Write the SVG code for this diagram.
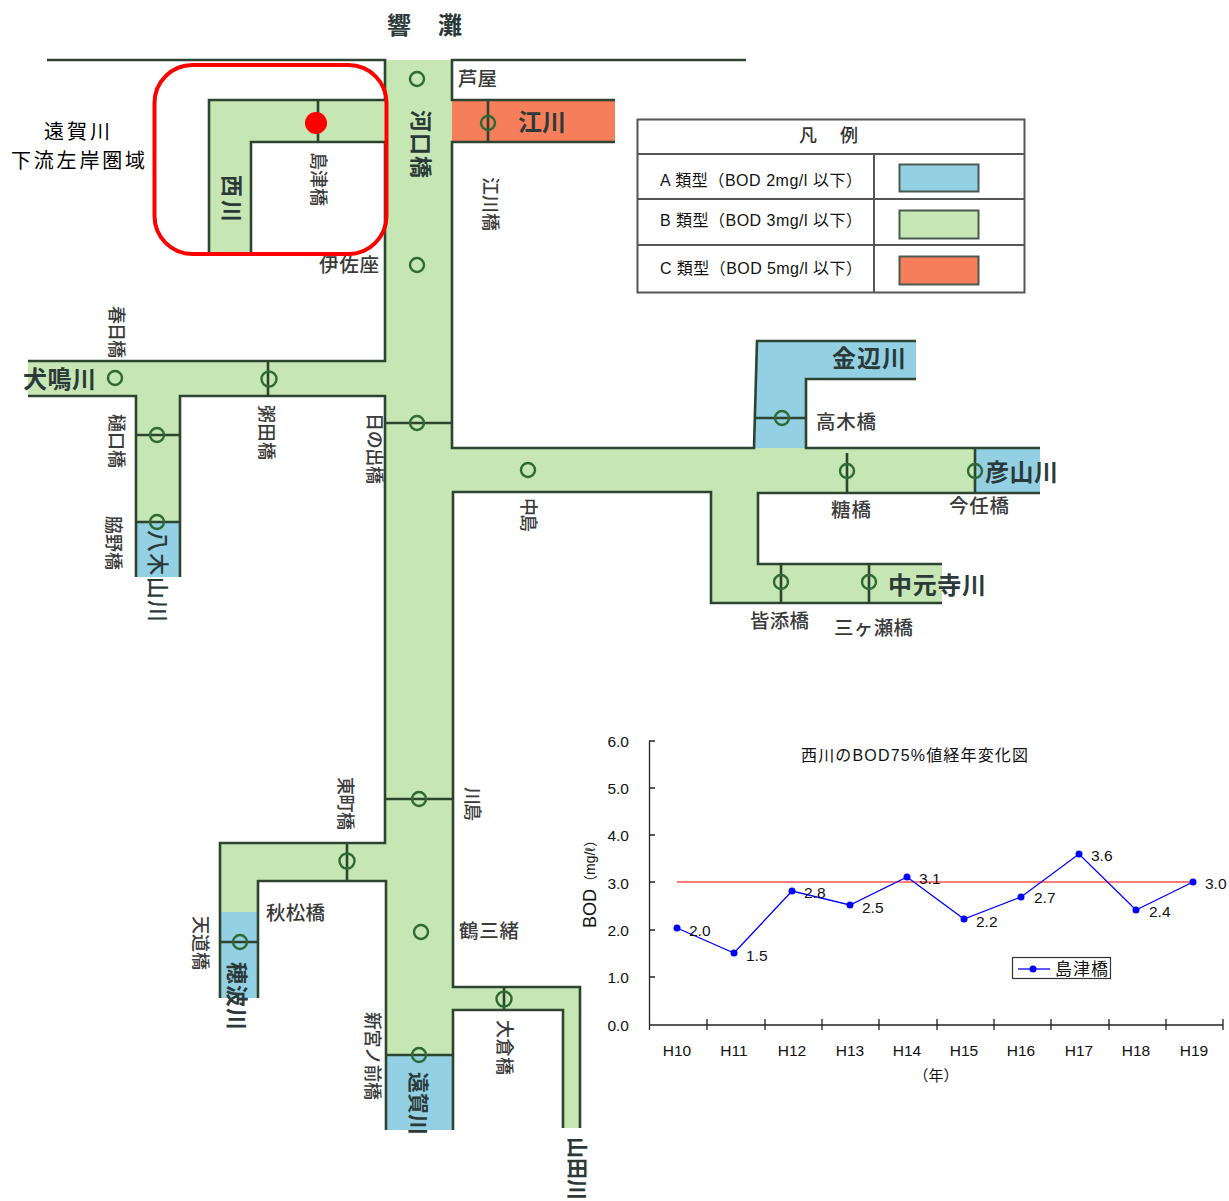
<svg xmlns="http://www.w3.org/2000/svg" width="1229" height="1201" viewBox="0 0 1229 1201">
<style>
text{font-family:"Noto Sans CJK JP","Liberation Sans",sans-serif;dominant-baseline:central}
.g{fill:#c6e6b4}.b{fill:#93d0e4}.o{fill:#f67e5a}
.l{fill:none;stroke:#2c4430;stroke-width:2.6}
.c{fill:none;stroke:#2f6a35;stroke-width:2.4}
.s{font-size:18px;fill:#3a3a3a;font-weight:500}
.h{font-size:19.500px;fill:#3a3a3a;font-weight:500}
.r{font-size:22px;fill:#2b3a38;font-weight:700}
.R{font-size:24px;fill:#2b3a38;font-weight:700}
.leg{font-family:"Liberation Sans","Noto Sans CJK JP",sans-serif;font-size:16px;fill:#111}
.sw{stroke:#4a5a50;stroke-width:2}
.n{font-family:"Liberation Sans",sans-serif;font-size:15.500px;fill:#111}
.axis{fill:none;stroke:#222;stroke-width:1.300}
.lat{font-family:"Liberation Sans","Noto Sans CJK JP",sans-serif;fill:#111}
</style>
<rect width="1229" height="1201" fill="#fff"/>
<g id="river-fills">
<rect class="g" x="386" y="60" width="66" height="996"/>
<rect class="b" x="386" y="1055" width="66" height="75"/>
<path class="g" d="M209 100H386V142H251V255H209Z"/>
<rect class="o" x="452" y="100" width="163" height="42"/>
<path class="g" d="M28 361H386V396H180V522H136V396H28Z"/>
<rect class="b" x="136" y="522" width="44" height="55"/>
<path class="g" d="M452 448H976V493H758V564H942V603H711V492H452Z"/>
<path class="b" d="M756 341H916V379H806V448H754Z"/>
<rect class="b" x="976" y="448" width="64" height="45"/>
<path class="g" d="M386 843V881H258V912H220V843Z"/>
<rect class="b" x="220" y="912" width="38" height="86"/>
<path class="g" d="M452 987H580V1128H563V1010H452Z"/>
</g>
<g id="connectors">
<path class="l" d="M47 60H385V100H209V255M251 255V142H385V361H28M28 396H136V577M180 577V396H385V843H220V998M258 998V881H386V1130"/>
<path class="l" d="M746 60H452V100H615M615 142H452V448H754L757 341H916M916 379H806V448H1040M1040 493H758V564H942M942 603H711V492H453V987H580V1128M563 1128V1010H453V1130"/>
<path class="l" d="M318 100V142M488 100V142M268 361V396M136 435H180M136 522H180M386 423H452M756 418H806M847 453V493M975 448V493M781 564V603M869 564V603M386 799H452M347 843V881M220 942H258M504 987V1010M386 1055H452"/>
</g>
<g id="stations">
<circle class="c" cx="417" cy="79" r="7"/><circle class="c" cx="488" cy="123" r="7"/><circle class="c" cx="417" cy="265" r="7"/>
<circle class="c" cx="115" cy="378" r="7"/><circle class="c" cx="269" cy="379" r="7.500"/><circle class="c" cx="157" cy="435" r="7"/><circle class="c" cx="157" cy="522" r="7"/>
<circle class="c" cx="417" cy="423" r="7"/><circle class="c" cx="528" cy="470" r="7"/><circle class="c" cx="782" cy="418" r="7"/><circle class="c" cx="847" cy="471" r="7"/><circle class="c" cx="975" cy="471" r="7"/>
<circle class="c" cx="781" cy="582" r="7"/><circle class="c" cx="869" cy="582" r="7"/><circle class="c" cx="419" cy="799" r="7"/><circle class="c" cx="347" cy="861" r="7.500"/><circle class="c" cx="240" cy="942" r="7"/>
<circle class="c" cx="421" cy="932" r="7"/><circle class="c" cx="504" cy="999" r="7.500"/><circle class="c" cx="419" cy="1055" r="7"/>
</g>
<g id="map-labels">
<text class="R" x="387" y="25" dy="-2" textLength="75">響　灘</text>
<text class="h" x="458" y="79" dy="-2" textLength="39">芦屋</text>
<text class="R" x="518" y="122" dy="-2" textLength="48">江川</text>
<text class="r" transform="translate(421 110) rotate(90)" dy="-2" textLength="68">河口橋</text>
<text class="s" transform="translate(490 177) rotate(90)" dy="-2" textLength="54">江川橋</text>
<text class="r" transform="translate(232 175) rotate(90)" dy="-2" textLength="47">西川</text>
<text class="s" transform="translate(318 152) rotate(90)" dy="-2" textLength="54">島津橋</text>
<text class="h" x="319" y="265" dy="-2" textLength="60">伊佐座</text>
<text class="s" transform="translate(116 306) rotate(90)" dy="-2" textLength="52">春日橋</text>
<text class="R" x="23" y="379" dy="-2" textLength="73">犬鳴川</text>
<text class="s" transform="translate(116 414) rotate(90)" dy="-2" textLength="54">樋口橋</text>
<text class="s" transform="translate(113 516) rotate(90)" dy="-2" textLength="54">脇野橋</text>
<text class="r" transform="translate(158 530) rotate(90)" dy="-2" textLength="92" style="font-weight:500">八木山川</text>
<text class="s" transform="translate(266 405) rotate(90)" dy="-2" textLength="55">粥田橋</text>
<text class="s" transform="translate(374 413) rotate(90)" dy="-2" textLength="71">日の出橋</text>
<text class="s" transform="translate(528 498) rotate(90)" dy="-2" textLength="34">中島</text>
<text class="h" x="816" y="422" dy="-2" textLength="60">高木橋</text>
<text class="R" x="832" y="358" dy="-2" textLength="74">金辺川</text>
<text class="R" x="985" y="472" dy="-2" textLength="73">彦山川</text>
<text class="h" x="831" y="510" dy="-2" textLength="40">糖橋</text>
<text class="h" x="949" y="506" dy="-2" textLength="60">今任橋</text>
<text class="R" x="888" y="585" dy="-2" textLength="98">中元寺川</text>
<text class="h" x="750" y="621" dy="-2" textLength="59">皆添橋</text>
<text class="h" x="834" y="628" dy="-2" textLength="79">三ヶ瀬橋</text>
<text class="s" transform="translate(345 777) rotate(90)" dy="-2" textLength="53">東町橋</text>
<text class="s" transform="translate(472 787) rotate(90)" dy="-2" textLength="34">川島</text>
<text class="h" x="459" y="931" dy="-2" textLength="60">鶴三緒</text>
<text class="h" x="266" y="913" dy="-2" textLength="59">秋松橋</text>
<text class="s" transform="translate(200 916) rotate(90)" dy="-2" textLength="54">天道橋</text>
<text class="r" transform="translate(237 962) rotate(90)" dy="-2" textLength="68">穂波川</text>
<text class="s" transform="translate(372 1012) rotate(90)" dy="-2" textLength="88">新宮ノ前橋</text>
<text class="r" transform="translate(418 1072) rotate(90)" dy="-2" textLength="63" style="font-size:21px">遠賀川</text>
<text class="s" transform="translate(504 1020) rotate(90)" dy="-2" textLength="55">大倉橋</text>
<text class="r" transform="translate(577 1137) rotate(90)" dy="-2" textLength="63" style="font-size:21px">山田川</text>
</g>
<g id="study-area">
<rect x="154.500" y="65" width="232" height="189" rx="38" fill="none" stroke="#f00" stroke-width="4"/>
<circle cx="316" cy="123" r="11" fill="#f00"/>
<text x="44" y="132" dy="-2" textLength="66" style="font-size:20px;fill:#000">遠賀川</text>
<text x="11" y="161" dy="-2" textLength="134" style="font-size:20px;fill:#000">下流左岸圏域</text>
</g>
<g id="legend">
<rect x="637.500" y="119.500" width="387" height="173" fill="#fff" stroke="#555" stroke-width="2"/>
<path d="M637 154H1024M637 199H1024M637 245H1024M874 154V293" fill="none" stroke="#555" stroke-width="2"/>
<text x="799" y="136" dy="-2" textLength="59" style="font-size:18px;fill:#333;font-weight:500">凡　例</text>
<text class="leg" x="660" y="180" textLength="202">A 類型（BOD 2mg/l 以下）</text>
<text class="leg" x="660" y="220" textLength="202">B 類型（BOD 3mg/l 以下）</text>
<text class="leg" x="660" y="268" textLength="202">C 類型（BOD 5mg/l 以下）</text>
<rect class="b sw" x="899.500" y="164.500" width="79" height="27"/>
<rect class="g sw" x="899.500" y="210.500" width="79" height="28"/>
<rect class="o sw" x="899.500" y="256.500" width="79" height="28"/>
</g>
<g id="chart">
<path class="axis" d="M649.500 741V1025M649 741h6M649 788h6M649 835h6M649 882h6M649 930h6M649 977h6M649 1025H1223M649.500 1019v11M707 1019v11M765 1019v11M822 1019v11M879 1019v11M937 1019v11M994 1019v11M1051 1019v11M1109 1019v11M1166 1019v11M1223 1019v11"/>
<path d="M677 882H1193" stroke="#ff5050" stroke-width="1.600" fill="none"/>
<path d="M677 928L734 953L792 891L850 905L907 877L964 919L1021 897L1079 854L1136 910L1193 882" stroke="#00f" stroke-width="1.300" fill="none"/>
<g fill="#00f"><circle cx="677" cy="928" r="3.500"/><circle cx="734" cy="953" r="3.500"/><circle cx="792" cy="891" r="3.500"/><circle cx="850" cy="905" r="3.500"/><circle cx="907" cy="877" r="3.500"/><circle cx="964" cy="919" r="3.500"/><circle cx="1021" cy="897" r="3.500"/><circle cx="1079" cy="854" r="3.500"/><circle cx="1136" cy="910" r="3.500"/><circle cx="1193" cy="882" r="3.500"/></g>
<g text-anchor="end">
<text class="n" x="629" y="741">6.0</text><text class="n" x="629" y="788">5.0</text><text class="n" x="629" y="835">4.0</text><text class="n" x="629" y="883">3.0</text><text class="n" x="629" y="930">2.0</text><text class="n" x="629" y="977">1.0</text><text class="n" x="629" y="1025">0.0</text>
</g>
<g text-anchor="middle">
<text class="n" x="677" y="1050">H10</text><text class="n" x="734" y="1050">H11</text><text class="n" x="792" y="1050">H12</text><text class="n" x="850" y="1050">H13</text><text class="n" x="907" y="1050">H14</text><text class="n" x="964" y="1050">H15</text><text class="n" x="1021" y="1050">H16</text><text class="n" x="1079" y="1050">H17</text><text class="n" x="1136" y="1050">H18</text><text class="n" x="1194" y="1050">H19</text>
</g>
<text class="n" x="689" y="930">2.0</text><text class="n" x="746" y="955">1.5</text><text class="n" x="804" y="892">2.8</text><text class="n" x="862" y="907">2.5</text><text class="n" x="919" y="878">3.1</text><text class="n" x="976" y="921">2.2</text><text class="n" x="1034" y="897">2.7</text><text class="n" x="1091" y="855">3.6</text><text class="n" x="1149" y="911">2.4</text><text class="n" x="1205" y="883">3.0</text>
<text class="lat" x="801" y="755" textLength="227" style="font-size:16px">西川のBOD75%値経年変化図</text>
<text class="lat" transform="translate(590 928) rotate(-90)" style="font-size:14px"><tspan style="font-size:18px">BOD</tspan>（mg/ℓ）</text>
<text x="936" y="1075" dy="-1" text-anchor="middle" style="font-size:15px;fill:#111">（年）</text>
<rect x="1012.500" y="957.500" width="98" height="21" fill="#fff" stroke="#333" stroke-width="1.200"/>
<path d="M1018 969H1050" stroke="#00f" stroke-width="1.300"/><circle cx="1033" cy="969" r="3.500" fill="#00f"/>
<text x="1055" y="969" dy="-2" textLength="53" style="font-size:17px;fill:#111">島津橋</text>
</g>
</svg>
